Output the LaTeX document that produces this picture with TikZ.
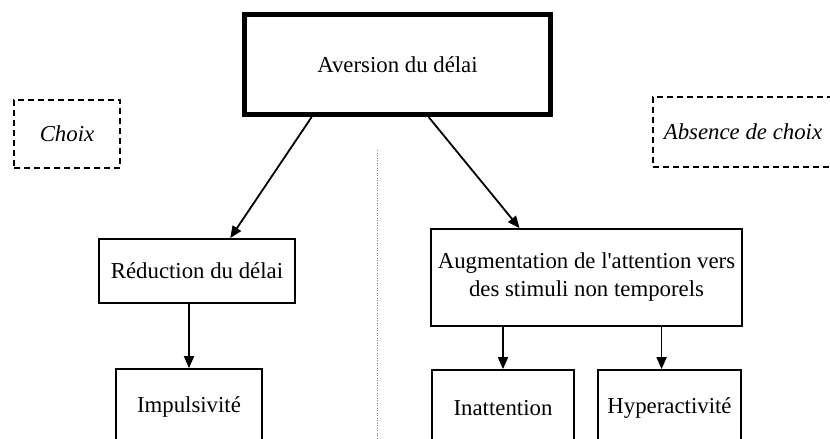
\documentclass[tikz,border=0pt]{standalone}
\usepackage{fontspec}
\setmainfont{Liberation Serif}[Ligatures=TeXOff]
\usetikzlibrary{arrows.meta,calc}
\begin{document}
\begin{tikzpicture}[x=1pt,y=-1pt,
  box/.style={draw, line width=1.8pt, inner sep=0pt, align=center,
              font=\fontsize{22.8}{28}\selectfont},
  mainbox/.style={box, line width=5pt},
  choicebox/.style={box, dashed, dash pattern=on 6pt off 4pt, line width=1.8pt,
              font=\fontsize{22.8}{28}\selectfont\itshape},
  link/.style={line width=1.8pt, -{Triangle[length=12pt,width=10pt]}}]
\useasboundingbox (0,0) rectangle (830,439);
\clip (0,0) rectangle (830,439);

% top node
\node[mainbox, minimum width=306pt, minimum height=100pt] (av) at (397.5,64.5) {Aversion du délai};

% choice labels
\node[choicebox, minimum width=106pt, minimum height=68pt] (ch) at (67,134) {Choix};
\node[choicebox, minimum width=180pt, minimum height=70pt] (nc) at (743,132) {Absence de choix};

% separator
\draw[gray, line width=0.8pt, dash pattern=on 1pt off 1.5pt] (377,150) -- (377,439);

% left branch
\node[box, minimum width=196pt, minimum height=64pt] (red) at (197,271) {Réduction du délai};
\node[box, minimum width=146pt, minimum height=76pt] (imp) at (189,407) {Impulsivité};

% right branch
\node[box, minimum width=311pt, minimum height=97pt] (aug) at (586.5,277.5)
  {Augmentation de l'attention vers\\des stimuli non temporels};
\node[box, minimum width=142pt, minimum height=76pt] (ina) at (503,408) {Inattention};
\node[box, minimum width=143pt, minimum height=76pt] (hyp) at (669.5,408) {Hyperactivité};

% connectors
\draw[link] ($(av.south west)!0.224!(av.south east)$) -- ($(red.north west)!0.668!(red.north east)$);
\draw[link] ($(av.south west)!0.6!(av.south east)$) -- ($(aug.north west)!0.286!(aug.north east)$);
\draw[link] (red.south -| imp) -- (imp.north);
\draw[link] (aug.south -| ina) -- (ina.north);
\coordinate (hs) at ($(aug.south west)!0.74!(aug.south east)$);
\draw[link] (hs) -- (hs |- hyp.north);
\end{tikzpicture}
\end{document}
